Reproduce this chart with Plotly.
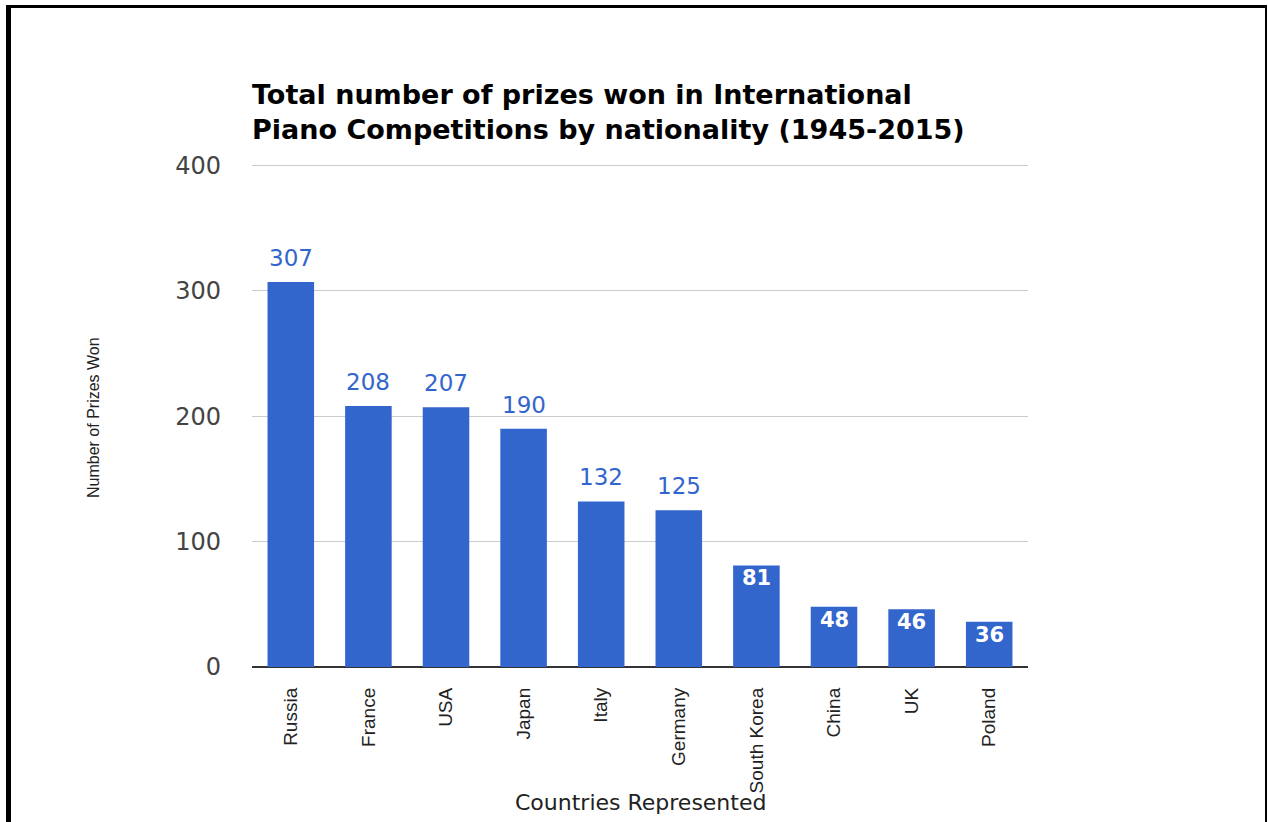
import plotly.graph_objects as go

countries = ["Russia", "France", "USA", "Japan", "Italy", "Germany",
             "South Korea", "China", "UK", "Poland"]
prizes = [307, 208, 207, 190, 132, 125, 81, 48, 46, 36]
label_inside = [False, False, False, False, False, False, True, True, True, True]
y_ticks = [0, 100, 200, 300, 400]

title_text = ("Total number of prizes won in International<br>"
              "Piano Competitions by nationality (1945-2015)")
x_title = "Countries Represented"
y_title = "Number of Prizes Won"

W, H = 1268, 822
L, R, T, B = 252, 240, 164, 155
Y_MAX = 401
BLUE = "#3366cc"


def px_x(p):
    return (p - L) / (W - L - R)


def px_y(p):
    return (H - B - p) / (H - T - B)


fig = go.Figure()
fig.add_trace(go.Bar(
    x=countries, y=prizes,
    marker=dict(color=BLUE, line=dict(width=0)),
    hoverinfo="x+y",
))

annotations = []
for c, v, inside in zip(countries, prizes, label_inside):
    annotations.append(dict(
        x=c, y=v, xref="x", yref="y", text=str(v), showarrow=False,
        yanchor="middle", yshift=(-13 if inside else 24),
        font=dict(family="DejaVu Sans", size=(21 if inside else 23),
                  color=("white" if inside else BLUE),
                  weight=("bold" if inside else "normal")),
    ))

annotations.append(dict(
    x=px_x(93), y=px_y(418), xref="paper", yref="paper", text=y_title,
    showarrow=False, textangle=-90, xanchor="center", yanchor="middle",
    font=dict(family="Liberation Sans, Arial", size=16, color="#222"),
))
annotations.append(dict(
    x=px_x(640), y=px_y(802), xref="paper", yref="paper", text=x_title,
    showarrow=False, xanchor="center", yanchor="middle",
    font=dict(family="DejaVu Sans", size=22, color="#222"),
))

shapes = []
# black frame around the picture
for x0, x1, y0, y1 in [(6, 11, 5, H + 5), (6, 1267, 5, 8), (1265, 1267, 5, H + 5)]:
    shapes.append(dict(type="rect", xref="paper", yref="paper",
                       x0=px_x(x0), x1=px_x(x1), y0=px_y(y1), y1=px_y(y0),
                       fillcolor="black", line=dict(width=0), layer="above"))

fig.update_layout(
    width=W, height=H,
    margin=dict(l=L, r=R, t=T, b=B, pad=0),
    paper_bgcolor="white", plot_bgcolor="white",
    bargap=0.4,
    showlegend=False,
    title=dict(text=title_text, x=L / W, xanchor="left", xref="container",
               y=1 - 104 / H, yanchor="top",
               font=dict(family="DejaVu Sans", size=27, color="black", weight="bold")),
    xaxis=dict(
        tickangle=-90, ticks="", showgrid=False, showline=False,
        tickfont=dict(family="Liberation Sans, Arial", size=19, color="#222"),
        ticklabelstandoff=16, fixedrange=True,
    ),
    yaxis=dict(
        range=[0, Y_MAX], tickvals=y_ticks, ticktext=[str(t) for t in y_ticks],
        showgrid=True, gridcolor="#cccccc", gridwidth=1,
        zeroline=True, zerolinecolor="#333333", zerolinewidth=1.5,
        showline=False, ticks="",
        tickfont=dict(family="DejaVu Sans", size=24, color="#444"),
        ticklabelstandoff=30, fixedrange=True,
    ),
    annotations=annotations,
    shapes=shapes,
)

fig.write_html("out.html", config={"displayModeBar": False},
               post_script="document.body.style.margin='0px';document.body.style.overflow='hidden';")
